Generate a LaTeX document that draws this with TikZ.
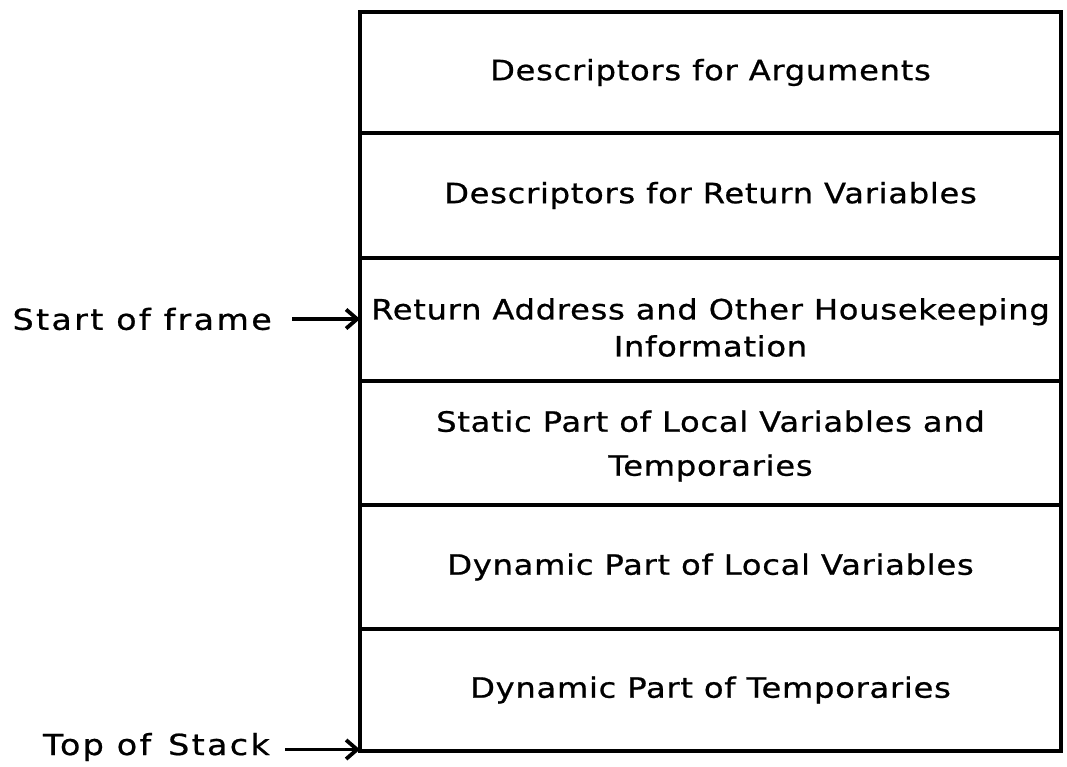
\documentclass[tikz,border=0pt]{standalone}
\usepackage{fontspec}
\setmainfont{DejaVu Sans}[FakeStretch=1.15, LetterSpace=2.5, FakeBold=0.7]
\usetikzlibrary{arrows.meta}
\begin{document}
\begin{tikzpicture}[x=1pt,y=-1pt,
  rowbox/.style={draw=black, line width=3.2pt, minimum width=701pt, inner sep=0pt, outer sep=0pt},
  rowtext/.style={inner sep=0pt, align=center, font=\fontsize{28}{44}\selectfont, text=black},
  sidelabel/.style={anchor=east, inner sep=0pt, font=\fontsize{29}{34}\selectfont\addfontfeature{LetterSpace=8}, text=black},
  ptr/.style={line width=3.2pt, -{Straight Barb[length=11pt,width=19pt,line width=3.8pt]}}]
\useasboundingbox (0,0) rectangle (1067,766);
\node[rowbox, minimum height=121pt] (r1) at (710.5,72.5) {};
\node[rowbox, minimum height=125pt] (r2) at (710.5,195.5) {};
\node[rowbox, minimum height=123pt] (r3) at (710.5,319.5) {};
\node[rowbox, minimum height=124pt] (r4) at (710.5,443) {};
\node[rowbox, minimum height=124pt] (r5) at (710.5,567) {};
\node[rowbox, minimum height=122pt] (r6) at (710.5,690) {};
\node[rowtext] (t1) at (r1.center) {Descriptors for Arguments};
\node[rowtext] (t2) at (r2.center) {Descriptors for Return Variables};
\node[rowtext, font=\fontsize{28}{37}\selectfont, yshift=-8pt] (t3) at (r3.center) {Return Address and Other Housekeeping\\Information};
\node[rowtext, yshift=-3pt] (t4) at (r4.center) {Static Part of Local Variables and\\Temporaries};
\node[rowtext] (t5) at (r5.center) {Dynamic Part of Local Variables};
\node[rowtext] (t6) at (r6.center) {Dynamic Part of Temporaries};
\coordinate (sf) at (r3.west |- 0,319);
\coordinate (ts) at ([yshift=1.5pt]r6.south west);
\coordinate (sfs) at ([xshift=-68pt]sf);
\coordinate (tss) at ([xshift=-75pt]ts);
\node[sidelabel] (lsf) at (272,319) {Start of frame};
\node[sidelabel] (lts) at (270,747) {Top of\hspace{4pt} Stack};
\draw[ptr] (sfs) -- (sf);
\draw[ptr] (tss) -- (ts);
\end{tikzpicture}
\end{document}
